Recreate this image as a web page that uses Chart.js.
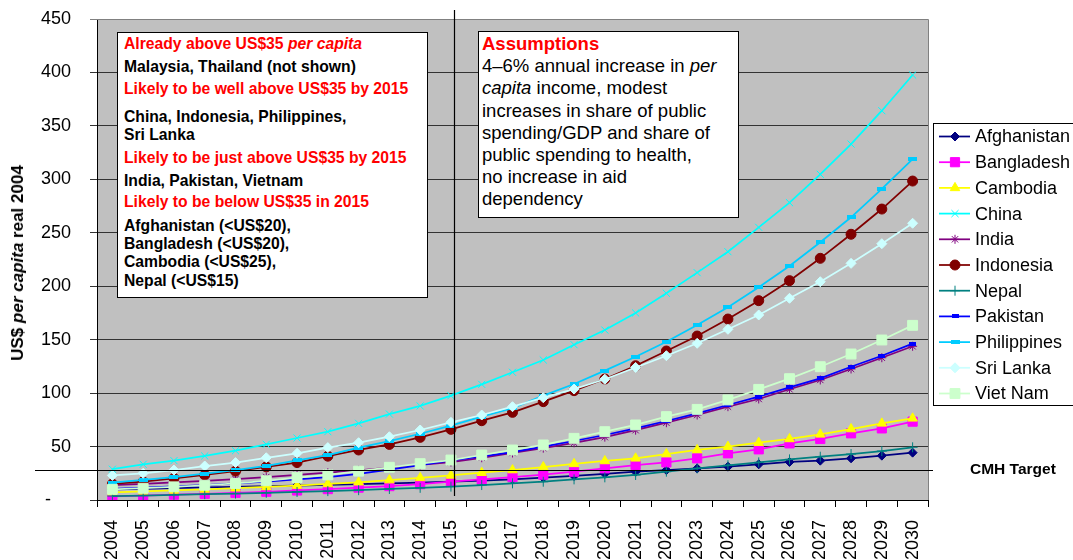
<!DOCTYPE html>
<html>
<head>
<meta charset="utf-8">
<script src="https://cdn.jsdelivr.net/npm/chart.js@4/dist/chart.umd.min.js"></script>
<style>
    body { margin: 0; background: #fff; }
    #wrap { position: relative; width: 1073px; height: 560px; overflow: hidden; font-family: "Liberation Sans", Arial, sans-serif; }
    #chart { position: absolute; left: 0; top: 0; }
    .box { position: absolute; background: #fff; border: 1px solid #000; box-sizing: border-box; }
    .ln { position: absolute; left: 6px; white-space: nowrap; font-weight: bold; font-size: 15.7px; line-height: 18px; color: #000; }
    .red { color: #ff0000; }
    #assum { left: 478px; top: 31px; width: 261px; height: 187px; padding: 1px 0 0 3px; font-size: 18.5px; line-height: 22.2px; color: #000; }
    #ytitle { position: absolute; left: 18px; top: 263px; transform: translate(-50%, -50%) rotate(-90deg); white-space: nowrap; font-weight: bold; font-size: 17px; }
    #cmh { position: absolute; left: 970px; top: 460px; font-weight: bold; font-size: 15.5px; line-height: 17px; white-space: nowrap; }
</style>
</head>
<body>
<div id="wrap">
    <canvas id="chart" width="1073" height="560"></canvas>

    <div class="box" style="left:117px; top:32px; width:311px; height:266px;">
        <div class="ln red" style="top:2px">Already above US$35 <i>per capita</i></div>
        <div class="ln" style="top:25px">Malaysia, Thailand (not shown)</div>
        <div class="ln red" style="top:47px">Likely to be well above US$35 by 2015</div>
        <div class="ln" style="top:75px">China, Indonesia, Philippines,</div>
        <div class="ln" style="top:93px">Sri Lanka</div>
        <div class="ln red" style="top:116px">Likely to be just above US$35 by 2015</div>
        <div class="ln" style="top:139px">India, Pakistan, Vietnam</div>
        <div class="ln red" style="top:160px">Likely to be below US$35 in 2015</div>
        <div class="ln" style="top:184px">Afghanistan (&lt;US$20),</div>
        <div class="ln" style="top:202px">Bangladesh (&lt;US$20),</div>
        <div class="ln" style="top:220px">Cambodia (&lt;US$25),</div>
        <div class="ln" style="top:239px">Nepal (&lt;US$15)</div>
    </div>

    <div class="box" id="assum">
        <span style="color:#ff0000; font-weight:bold;">Assumptions</span><br>
        4–6% annual increase in <i>per</i><br>
        <i>capita</i> income, modest<br>
        increases in share of public<br>
        spending/GDP and share of<br>
        public spending to health,<br>
        no increase in aid<br>
        dependency
    </div>

    <div id="ytitle">US$ <i>per capita</i> real 2004</div>
    <div id="cmh">CMH Target</div>
</div>

<script>
// Datos
const years = ['2004', '2005', '2006', '2007', '2008', '2009', '2010', '2011', '2012', '2013', '2014', '2015', '2016',
    '2017', '2018', '2019', '2020', '2021', '2022', '2023', '2024', '2025', '2026', '2027', '2028', '2029', '2030'];

const afghanistan = [10, 10.5, 11.1, 11.7, 12.3, 12.9, 13.5, 14.1, 14.8, 15.6, 16.3, 17.1, 18.1, 19.3, 20.9, 22.5, 24.5, 26.5, 28, 29.5, 31.2, 33.4, 35.6, 36.8, 39, 41.5, 44.3];
const bangladesh = [3.5, 4.2, 5, 5.8, 6.7, 7.7, 8.9, 10.2, 11.6, 13, 14.8, 17.1, 19.3, 21.4, 23.7, 26.5, 29.6, 32.7, 35.2, 39, 43.7, 47.4, 53, 57.1, 62.4, 67, 73.3];
const cambodia = [7.2, 8, 8.9, 9.9, 11, 12.2, 13.5, 15, 16.6, 18.6, 20.7, 23, 25.5, 28, 30.8, 33.8, 36.5, 39, 43, 46.8, 49.9, 53.6, 57.1, 61.4, 66.4, 71.7, 76.4];
const china = [28.8, 33.4, 36.8, 41.2, 46.1, 52.1, 58, 63.9, 71.7, 80.4, 88, 97.6, 108.2, 119.5, 131, 145.3, 159, 175, 193.4, 212.7, 232.3, 255.1, 278.2, 304.7, 333, 364.2, 397.6];
const india = [14, 15.2, 16.5, 18, 19.6, 21.5, 23.5, 25.5, 27.8, 30.2, 32.8, 35.5, 39.5, 44, 48.5, 53.5, 58.8, 65.3, 72.3, 79.5, 87.3, 94.5, 103.6, 112.3, 122.6, 133.1, 143.8];
const indonesia = [15, 17.1, 20.3, 23.4, 27, 31, 35, 41, 46.8, 52, 58.6, 66.1, 74.2, 82, 92, 102.3, 113.2, 125.6, 139.4, 153.4, 169.3, 186.5, 205.2, 226.1, 248.6, 272.2, 298.4];
const nepal = [3.7, 4.2, 4.8, 5.4, 6, 6.7, 7.5, 8.3, 9.2, 10.3, 11.4, 12.5, 14, 15.6, 17.1, 19.3, 21.2, 23.4, 26.5, 29.6, 32.5, 35.2, 38, 40.5, 43, 45.8, 49.3];
const pakistan = [10.5, 11.5, 12.7, 14, 15.5, 17.2, 19.2, 21.5, 24.5, 28.5, 32.7, 37, 40.7, 44.8, 49.9, 55.2, 60.8, 67.1, 73.9, 81.1, 88.9, 96.7, 105.4, 113.8, 124.7, 135, 146.3];
const philippines = [16.2, 18.8, 21.5, 24.7, 28, 32, 37, 42, 49, 55, 62, 69.5, 78, 85.8, 97.6, 108.5, 121, 134, 148, 163.7, 180.3, 199, 218.9, 241.1, 264.5, 291, 319];
const sriLanka = [23, 25, 28, 31.8, 35, 39.5, 43.7, 49, 53.6, 59.2, 65.5, 72.7, 79.5, 87.3, 95.7, 103.8, 113, 124, 135, 146.6, 159.7, 173.1, 188.7, 204.2, 221.4, 239.8, 258.9];
const vietNam = [10, 11, 12.3, 13.8, 15.5, 18, 21, 23.5, 27, 30.6, 34, 37.4, 42.1, 46.8, 51.5, 57.7, 63.9, 70.2, 78, 84.8, 93.6, 103.5, 113.5, 124.7, 136.6, 149.7, 163.4];

const cmhTarget = 28.5;
const targetYearIndex = 11; // 2015

// Marcador de guion (estilo Excel)
function dashMarker(color, w, h) {
    const c = document.createElement('canvas');
    c.width = w;
    c.height = h;
    const g = c.getContext('2d');
    g.fillStyle = color;
    g.fillRect(0, 0, w, h);
    return c;
}

const series = [
    { label: 'Afghanistan', data: afghanistan, color: '#000080', style: 'rectRot', radius: 4.5 },
    { label: 'Bangladesh', data: bangladesh, color: '#FF00FF', style: 'rect', radius: 6.5 },
    { label: 'Cambodia', data: cambodia, color: '#FFFF00', style: 'triangle', radius: 5.5 },
    { label: 'China', data: china, color: '#00FFFF', style: 'crossRot', radius: 5 },
    { label: 'India', data: india, color: '#800080', style: 'star', radius: 4.5 },
    { label: 'Indonesia', data: indonesia, color: '#800000', style: 'circle', radius: 5 },
    { label: 'Nepal', data: nepal, color: '#008080', style: 'cross', radius: 5 },
    { label: 'Pakistan', data: pakistan, color: '#0000FF', style: dashMarker('#0000FF', 7, 4), radius: 4 },
    { label: 'Philippines', data: philippines, color: '#00CCFF', style: dashMarker('#00CCFF', 9, 4), radius: 5 },
    { label: 'Sri Lanka', data: sriLanka, color: '#CCFFFF', style: 'rectRot', radius: 5 },
    { label: 'Viet Nam', data: vietNam, color: '#CCFFCC', style: 'rect', radius: 7 }
];

const datasets = series.map((s, i) => ({
    label: s.label,
    data: s.data,
    borderColor: s.color,
    backgroundColor: s.color,
    borderWidth: 1.75,
    pointStyle: s.style,
    pointRadius: s.radius,
    pointHoverRadius: s.radius,
    pointBackgroundColor: s.color,
    pointBorderColor: s.color,
    pointBorderWidth: 1,
    tension: 0,
    order: series.length - i
}));

// Fondo gris del área de trazado y borde
const plotBackground = {
    id: 'plotBackground',
    beforeDraw(chart) {
        const { ctx, chartArea: a } = chart;
        ctx.save();
        ctx.fillStyle = '#C0C0C0';
        ctx.fillRect(a.left, a.top, a.right - a.left, a.bottom - a.top);
        ctx.restore();
    },
    beforeDatasetsDraw(chart) {
        const { ctx, chartArea: a } = chart;
        ctx.save();
        ctx.strokeStyle = '#808080';
        ctx.lineWidth = 1;
        ctx.beginPath();
        ctx.moveTo(a.left, a.top + 0.5);
        ctx.lineTo(a.right + 0.5, a.top + 0.5);
        ctx.lineTo(a.right + 0.5, a.bottom);
        ctx.stroke();
        ctx.restore();
    }
};

// Líneas de referencia y leyenda
const annotations = {
    id: 'annotations',
    afterDraw(chart) {
        const { ctx, chartArea: a, scales } = chart;
        ctx.save();

        // Línea CMH Target
        const yT = Math.round(scales.y.getPixelForValue(cmhTarget)) + 0.5;
        ctx.strokeStyle = '#000';
        ctx.lineWidth = 1;
        ctx.beginPath();
        ctx.moveTo(35, yT);
        ctx.lineTo(933, yT);
        ctx.stroke();

        // Línea vertical en 2015
        const xV = Math.round(scales.x.getPixelForValue(targetYearIndex)) + 3.5;
        ctx.lineWidth = 1.2;
        ctx.beginPath();
        ctx.moveTo(xV, a.top - 9);
        ctx.lineTo(xV, a.bottom - 4);
        ctx.stroke();

        // Leyenda
        const lx = 933.5, ly = 123.5, rowH = 25.7;
        ctx.fillStyle = '#fff';
        ctx.fillRect(lx, ly, 160, 282);
        ctx.strokeStyle = '#000';
        ctx.lineWidth = 1;
        ctx.strokeRect(lx, ly, 160, 282);

        ctx.font = '18px "Liberation Sans", Arial, sans-serif';
        ctx.textBaseline = 'middle';
        series.forEach((s, i) => {
            const y = 136.5 + rowH * i;
            ctx.strokeStyle = s.color;
            ctx.lineWidth = 1.75;
            ctx.beginPath();
            ctx.moveTo(939, y);
            ctx.lineTo(970, y);
            ctx.stroke();

            ctx.fillStyle = s.color;
            ctx.strokeStyle = s.color;
            ctx.lineWidth = 1;
            Chart.helpers.drawPoint(ctx, { pointStyle: s.style, radius: s.radius, rotation: 0, borderWidth: 1 }, 955, y);

            ctx.fillStyle = '#000';
            ctx.fillText(s.label, 975, y + 1);
        });
        ctx.restore();
    }
};

new Chart(document.getElementById('chart').getContext('2d'), {
    type: 'line',
    data: {
        labels: years,
        datasets: datasets
    },
    options: {
        responsive: false,
        animation: false,
        layout: {
            padding: { left: 0, top: 19, right: 145, bottom: 0 }
        },
        plugins: {
            legend: { display: false },
            tooltip: { enabled: false }
        },
        scales: {
            x: {
                offset: true,
                grid: {
                    offset: true,
                    drawOnChartArea: false,
                    drawTicks: true,
                    tickLength: 7,
                    color: '#000'
                },
                border: { color: '#000', width: 1 },
                ticks: {
                    autoSkip: false,
                    maxRotation: 90,
                    minRotation: 90,
                    padding: 13,
                    color: '#000',
                    font: { family: '"Liberation Sans", Arial, sans-serif', size: 18 }
                },
                afterFit(scale) { scale.height = 60; }
            },
            y: {
                min: 0,
                max: 450,
                grid: {
                    tickLength: 7,
                    color: (c) => (c.tick && c.tick.value === 450 ? '#808080' : '#333')
                },
                border: { color: '#000', width: 1 },
                ticks: {
                    stepSize: 50,
                    padding: 19,
                    color: '#000',
                    font: { family: '"Liberation Sans", Arial, sans-serif', size: 18 },
                    callback: (v) => (v === 0 ? '-    ' : v)
                },
                afterFit(scale) {
                    scale.width = 97;
                    scale.paddingTop = 0;
                    scale.paddingBottom = 0;
                }
            }
        }
    },
    plugins: [plotBackground, annotations]
});
</script>
</body>
</html>
